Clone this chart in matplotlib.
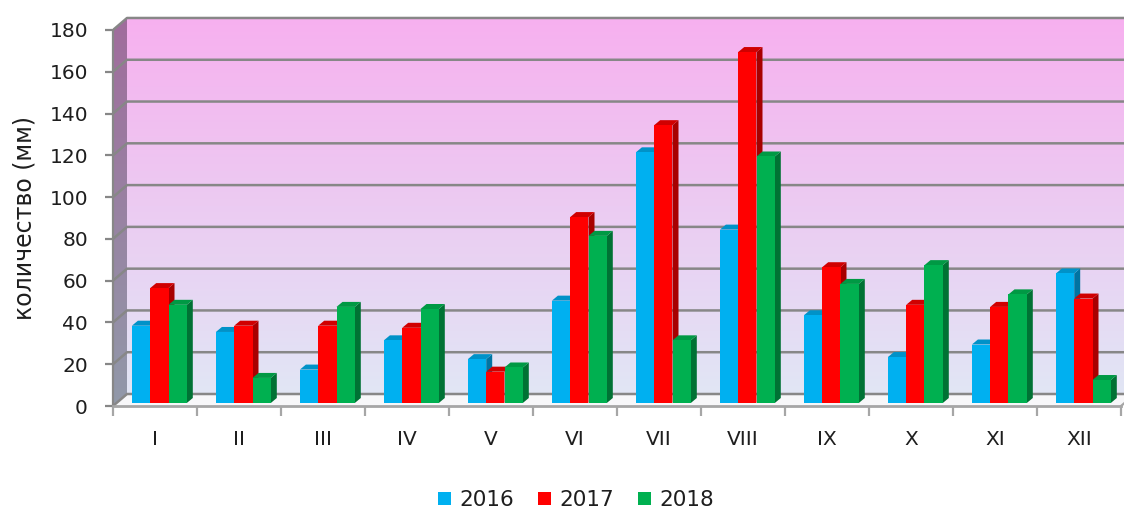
import numpy as np
import matplotlib.pyplot as plt
from matplotlib.patches import Polygon, Rectangle, Patch
from matplotlib.colors import to_rgb

plt.rcParams['font.family'] = ['DejaVu Sans']

# data
months = ['I', 'II', 'III', 'IV', 'V', 'VI', 'VII', 'VIII', 'IX', 'X', 'XI', 'XII']
years = ['2016', '2017', '2018']
v2016 = [37, 34, 16, 30, 21, 49, 120, 83, 42, 22, 28, 62]
v2017 = [55, 37, 37, 36, 15, 89, 133, 168, 65, 47, 46, 50]
v2018 = [47, 12, 46, 45, 17, 80, 30, 118, 57, 66, 52, 11]
yticks = list(range(0, 181, 20))

front_c = ['#00B0F0', '#FF0000', '#00B050']
top_c = ['#0092C8', '#D00000', '#009944']
side_c = ['#0074A2', '#A80000', '#007234']
grid_c = '#878787'
text_c = '#1E1E1E'

# pixel scale of the reference
PXX = 84.0      # px per category
PXY = 2.089     # px per unit
W, H = 1124, 512

dx = 14 / PXX   # wall depth offset
dy = 12 / PXY
bdx = 6 / PXX   # bar depth offset
bdy = 5 / PXY
bw = 18.3 / PXX
boff = 0.225
base = 0.25 * dy
n = len(months)
ymax = 186.5

fig = plt.figure(figsize=(W / 100, H / 100), dpi=100)
ax = fig.add_axes([113 / W, 106 / H, 1011 / W, ymax * PXY / H])
ax.patch.set_alpha(0)


def vgrad(c_bot, c_top, n_steps=256):
    a = np.array(to_rgb(c_bot))
    b = np.array(to_rgb(c_top))
    t = np.linspace(0, 1, n_steps)[:, None]
    return (a + (b - a) * t)[:, None, :]


# back wall
ax.imshow(vgrad('#E1E6F5', '#F7B0EF'), extent=[dx, n + dx, dy, 180 + dy],
          origin='lower', aspect='auto', zorder=0, interpolation='bilinear')
# side wall
side_poly = Polygon([(0, 0), (dx, dy), (dx, 180 + dy), (0, 180)], closed=True,
                    facecolor='none', edgecolor='none', transform=ax.transData)
ax.add_patch(side_poly)
im = ax.imshow(vgrad('#9199A9', '#A06C9C'), extent=[0, dx, 0, 180 + dy],
               origin='lower', aspect='auto', zorder=0.5, interpolation='bilinear')
im.set_clip_path(side_poly)
# floor
ax.add_patch(Polygon([(0, 0), (n, 0), (n + dx, dy), (dx, dy)], closed=True,
                     facecolor='#F7F7F9', edgecolor='none', zorder=1))

# gridlines
for v in yticks:
    ax.plot([0, dx, n + dx], [v, v + dy, v + dy], color=grid_c, lw=1.8,
            zorder=1.5, solid_capstyle='butt')
ax.plot([n, n + dx], [0, dy], color='#A6A6A6', lw=1.6, zorder=1.6, clip_on=False)

# bars
series = [v2016, v2017, v2018]
z = 2
for i in range(n):
    for j, vals in enumerate(series):
        x0 = i + boff + j * bw
        x1 = x0 + bw
        y0 = base
        y1 = base + vals[i]
        ax.add_patch(Polygon([(x1, y0), (x1 + bdx, y0 + bdy), (x1 + bdx, y1 + bdy), (x1, y1)],
                             closed=True, facecolor=side_c[j], edgecolor='none', zorder=z))
        ax.add_patch(Polygon([(x0, y1), (x1, y1), (x1 + bdx, y1 + bdy), (x0 + bdx, y1 + bdy)],
                             closed=True, facecolor=top_c[j], edgecolor='none', zorder=z))
        ax.add_patch(Rectangle((x0, y0), bw, vals[i], facecolor=front_c[j],
                               edgecolor='none', zorder=z + 0.1))
        z += 0.2

ax.set_xlim(0, 1011 / PXX)
ax.set_ylim(0, ymax)

for s in ['top', 'right']:
    ax.spines[s].set_visible(False)
ax.spines['left'].set_bounds(0, 180)
ax.spines['left'].set_color(grid_c)
ax.spines['left'].set_linewidth(1.6)
ax.spines['bottom'].set_bounds(0, n)
ax.spines['bottom'].set_color('#A6A6A6')
ax.spines['bottom'].set_linewidth(2)

ax.set_yticks(yticks)
ax.tick_params(axis='y', length=6, width=1.6, color=grid_c, pad=12,
               labelsize=14.5, labelcolor=text_c)
ax.set_xticks(np.arange(n) + 0.5, months)
ax.set_xticks(np.arange(n + 1), minor=True)
ax.tick_params(axis='x', which='major', length=0, pad=17, labelsize=14.5, labelcolor=text_c)
ax.tick_params(axis='x', which='minor', length=7, width=1.6, color='#A6A6A6')

fig.text(25 / W, 1 - 218 / H, 'количество (мм)', rotation=90, ha='center', va='center',
         fontsize=17, color=text_c)

handles = [Patch(facecolor=c, edgecolor='none') for c in front_c]
fig.legend(handles, years, loc='center', bbox_to_anchor=(576 / W, 1 - 500 / H), ncol=3,
           frameon=False, fontsize=15.5, handlelength=0.6, handleheight=0.6,
           handletextpad=0.4, columnspacing=1.1, labelcolor=text_c)

fig.savefig('out.png', dpi=100)
